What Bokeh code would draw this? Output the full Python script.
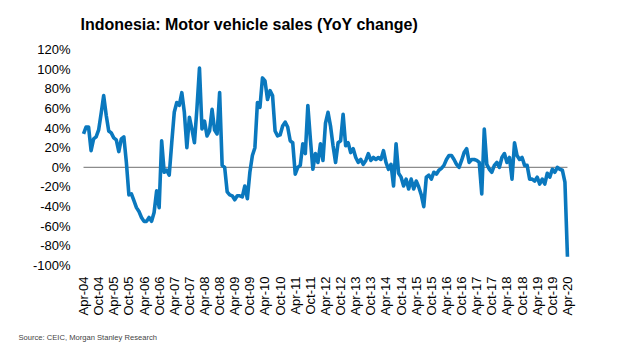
from bokeh.plotting import figure
from bokeh.models import FixedTicker, PrintfTickFormatter, Title, Range1d
from bokeh.embed import file_html
from bokeh.resources import INLINE
from math import pi

title_text = "Indonesia: Motor vehicle sales (YoY change)"
source_text = "Source: CEIC, Morgan Stanley Research"

# Monthly YoY change (%), Apr-04 .. Apr-20
yoy = [
    34, 41, 41, 17, 29, 31, 38, 55, 73, 53, 37, 35,      # Apr-04 .. Mar-05
    30, 28, 16, 29, 31, 5, -28, -27, -34, -41, -45, -51,  # Apr-05 .. Mar-06
    -55, -55, -51, -55, -46, -24, -41, 27, -5, -3, -8, 25,  # Apr-06 .. Mar-07
    56, 66, 63, 76, 56, 20, 51, 39, 25, 60, 101, 39,      # Apr-07 .. Mar-08
    47, 32, 37, 59, 38, 34, 76, 2, 0, -25, -28, -29,      # Apr-08 .. Mar-09
    -33, -29, -29, -30, -19, -32, -5, 12, 20, 66, 61, 91,  # Apr-09 .. Mar-10
    88, 69, 78, 73, 37, 32, 33, 42, 46, 41, 27, 25,       # Apr-10 .. Mar-11
    -7, 0, 2, 24, 14, 63, 29, -2, 14, 5, 24, 7,           # Apr-11 .. Mar-12
    45, 56, 42, 22, 5, 25, 27, 54, 22, 25, 15, 19,        # Apr-12 .. Mar-13
    10, 5, 8, 3, 7, 14, 7, 10, 8, 10, 8, 17,              # Apr-13 .. Mar-14
    5, -2, 3, -19, 24, -6, -10, -19, -12, -22, -12, -22,  # Apr-14 .. Mar-15
    -14, -20, -28, -40, -10, -8, -12, -5, -7, -3, -1, 2,  # Apr-15 .. Mar-16
    8, 12, 12, 8, 3, 0, 7, 15, 19, 5, 8, 8,               # Apr-16 .. Mar-17
    7, 5, -27, 39, 3, -2, -5, 2, 5, 0, 10, 14,            # Apr-17 .. Mar-18
    5, 10, -12, 25, 12, 8, 10, 2, 2, -12, -12, -14,       # Apr-18 .. Mar-19
    -10, -17, -12, -17, -6, -10, -2, -5, 0, -2, -3, -15,  # Apr-19 .. Mar-20
    -91,                                                  # Apr-20
]
month_index = list(range(len(yoy)))

tick_labels = [
    "Apr-04", "Oct-04", "Apr-05", "Oct-05", "Apr-06", "Oct-06", "Apr-07", "Oct-07",
    "Apr-08", "Oct-08", "Apr-09", "Oct-09", "Apr-10", "Oct-10", "Apr-11", "Oct-11",
    "Apr-12", "Oct-12", "Apr-13", "Oct-13", "Apr-14", "Oct-14", "Apr-15", "Oct-15",
    "Apr-16", "Oct-16", "Apr-17", "Oct-17", "Apr-18", "Oct-18", "Apr-19", "Oct-19",
    "Apr-20",
]
tick_positions = [6 * i for i in range(len(tick_labels))]
y_ticks = [-100, -80, -60, -40, -20, 0, 20, 40, 60, 80, 100, 120]

FONT = "Liberation Sans"

p = figure(width=620, height=353, output_backend="svg", toolbar_location=None,
           x_range=Range1d(-1.2, 194.4), y_range=Range1d(-104, 124),
           min_border_left=80, min_border_right=47, min_border_top=45,
           min_border_bottom=82)
p.outline_line_color = None
p.xgrid.visible = False
p.ygrid.visible = False
p.background_fill_color = "white"
p.border_fill_color = "white"

# zero line
p.segment(x0=month_index[0], x1=month_index[-1], y0=0, y1=0,
          line_color="#8c8c8c", line_width=1.2)
p.line(month_index, yoy, line_color="#0A78BE", line_width=3.6, line_join="round")

p.yaxis.ticker = FixedTicker(ticks=y_ticks)
p.yaxis.formatter = PrintfTickFormatter(format="%d%%")
p.yaxis.axis_line_color = None
p.yaxis.major_tick_line_color = None
p.yaxis.minor_tick_line_color = None
p.yaxis.major_tick_out = 0
p.yaxis.major_tick_in = 0
p.yaxis.major_label_standoff = 10
p.yaxis.major_label_text_font = FONT
p.yaxis.major_label_text_font_size = "13px"
p.yaxis.major_label_text_color = "black"

p.xaxis.ticker = FixedTicker(ticks=tick_positions)
p.xaxis.major_label_overrides = {pos: lab for pos, lab in zip(tick_positions, tick_labels)}
p.xaxis.major_label_orientation = pi / 2
p.xaxis.axis_line_color = None
p.xaxis.major_tick_line_color = None
p.xaxis.minor_tick_line_color = None
p.xaxis.major_tick_out = 0
p.xaxis.major_tick_in = 0
p.xaxis.major_label_standoff = 7
p.xaxis.major_label_text_font = FONT
p.xaxis.major_label_text_font_size = "13px"
p.xaxis.major_label_text_color = "black"

p.add_layout(Title(text=title_text, align="left", offset=0, standoff=25,
                   text_font=FONT, text_font_size="16px", text_font_style="bold",
                   text_color="black"), "above")
p.add_layout(Title(text=source_text, align="left", offset=-62, standoff=24,
                   text_font=FONT, text_font_size="7.6px", text_font_style="normal",
                   text_color="#444444"), "below")

open("out.html", "w").write(file_html(p, INLINE))
